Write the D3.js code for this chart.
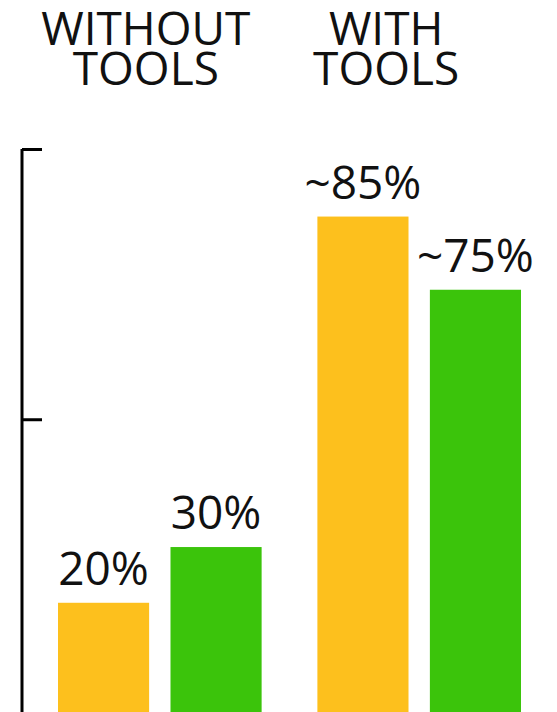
<!doctype html>
<html>
<head>
<meta charset="utf-8">
<script src="https://cdnjs.cloudflare.com/ajax/libs/d3/7.8.5/d3.min.js"></script>
<style>
  body { margin: 0; background: #fff; }
  svg { display: block; }
  text { font-family: "Open Sans", sans-serif; fill: #111; }
</style>
</head>
<body>
<svg id="chart" width="557" height="712"></svg>
<script>
// groups and series
var groups = ["WITHOUT TOOLS", "WITH TOOLS"];
var series = ["A", "B"];
// bar heights (percent)
var valuesA = [19.4, 88];
var valuesB = [29.3, 75];
// labels printed over the bars
var labelsA = ["20%", "~85%"];
var labelsB = ["30%", "~75%"];
var axisTicks = [52, 100];

var colors = { A: "#fdc01d", B: "#3bc40b" };

var W = 557, H = 712;
var svg = d3.select("#chart");

var y = d3.scaleLinear().domain([0, 100]).range([H, 149]);

var x0 = d3.scaleBand().domain(groups).range([58, 521]).paddingInner(0.215).paddingOuter(0);
var x1 = d3.scaleBand().domain(series).range([0, x0.bandwidth()]).paddingInner(0.19);

var rows = [];
groups.forEach(function(g, i) {
  rows.push({ g: g, s: "A", v: valuesA[i], label: labelsA[i] });
  rows.push({ g: g, s: "B", v: valuesB[i], label: labelsB[i] });
});

// axis on the left, ticks pointing into the chart
var axis = d3.axisRight(y).tickValues(axisTicks).tickSize(20).tickSizeOuter(0).tickFormat("");
var ag = svg.append("g").attr("transform", "translate(22,0)").call(axis);
ag.select(".domain").attr("stroke", "#000").attr("stroke-width", 3).attr("d", "M0," + H + "V" + y(100));
ag.selectAll(".tick line").attr("stroke", "#000").attr("stroke-width", 3);

// bars
svg.selectAll("rect.bar").data(rows).enter().append("rect")
  .attr("class", "bar")
  .attr("x", d => x0(d.g) + x1(d.s))
  .attr("y", d => y(d.v))
  .attr("width", x1.bandwidth())
  .attr("height", d => H - y(d.v))
  .attr("fill", d => colors[d.s]);

// value labels
svg.selectAll("text.val").data(rows).enter().append("text")
  .attr("class", "val")
  .attr("x", d => x0(d.g) + x1(d.s) + x1.bandwidth() / 2)
  .attr("y", d => y(d.v) - 18)
  .attr("text-anchor", "middle")
  .style("font-size", "46px")
  .text(d => d.label);

// group titles
var shift = [-14, -33];
groups.forEach(function(g, i) {
  var parts = g.split(" ");
  var cx = x0(g) + x0.bandwidth() / 2 + shift[i];
  var t = svg.append("text")
    .attr("text-anchor", "middle")
    .style("font-size", "46px")
    .attr("x", cx)
    .attr("y", 45);
  parts.forEach(function(p, j) {
    t.append("tspan")
      .attr("x", cx)
      .attr("dy", j === 0 ? 0 : 40)
      .text(p);
  });
});
</script>
</body>
</html>
